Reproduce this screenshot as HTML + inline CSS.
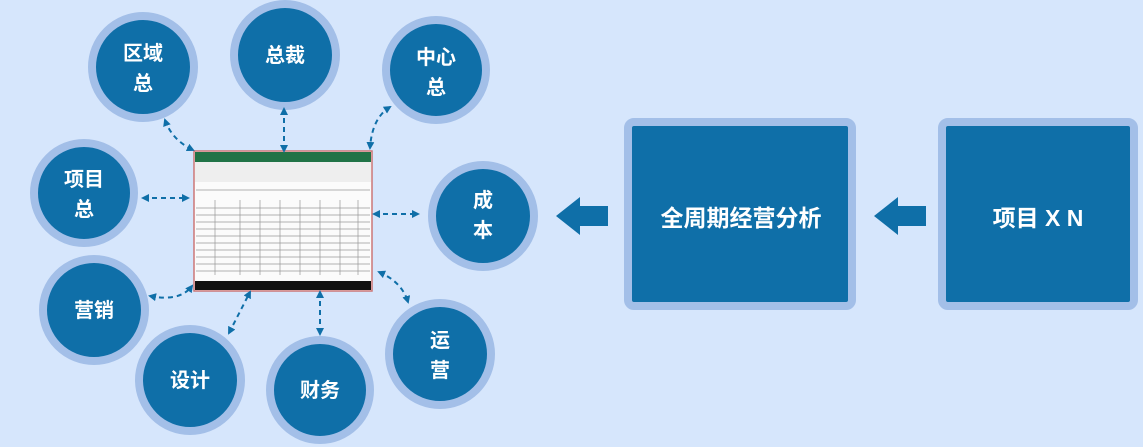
<!DOCTYPE html>
<html><head><meta charset="utf-8"><style>
html,body{margin:0;padding:0;background:#d6e6fc;}
svg{display:block;}
text{font-family:"Liberation Sans","Noto Sans CJK SC",sans-serif;font-weight:bold;fill:#fff;font-size:20px;text-anchor:middle;}
</style></head><body>
<svg width="1143" height="447" viewBox="0 0 1143 447" xmlns="http://www.w3.org/2000/svg">
<defs>
<marker id="ah" markerWidth="8" markerHeight="8" refX="6" refY="4" orient="auto-start-reverse" markerUnits="userSpaceOnUse"><path d="M0,0 L8,4 L0,8 Z" fill="#0f6fa8"/></marker>
</defs>
<rect width="1143" height="447" fill="#d6e6fc"/>
<g fill="#0f6fa8" stroke="#a3bfe8" stroke-width="8">
<circle cx="143" cy="67" r="51"/>
<circle cx="285" cy="55" r="51"/>
<circle cx="436" cy="70" r="50"/>
<circle cx="84" cy="193" r="50"/>
<circle cx="483" cy="216" r="51"/>
<circle cx="94" cy="310" r="51"/>
<circle cx="190" cy="380" r="51"/>
<circle cx="320" cy="390" r="50"/>
<circle cx="440" cy="354" r="51"/>
</g>
<text x="143" y="60">区域</text><text x="143" y="90">总</text>
<text x="285" y="62">总裁</text>
<text x="436" y="64">中心</text><text x="436" y="94">总</text>
<text x="84" y="186">项目</text><text x="84" y="216">总</text>
<text x="483" y="207">成</text><text x="483" y="237">本</text>
<text x="94" y="317">营销</text>
<text x="190" y="387">设计</text>
<text x="320" y="397">财务</text>
<text x="440" y="347">运</text><text x="440" y="377">营</text>
<rect x="628" y="122" width="224" height="184" rx="6" fill="#0f6fa8" stroke="#a3bfe8" stroke-width="8"/>
<text x="741" y="226" style="font-size:23px">全周期经营分析</text>
<rect x="942" y="122" width="192" height="184" rx="6" fill="#0f6fa8" stroke="#a3bfe8" stroke-width="8"/>
<text x="1038" y="226" style="font-size:23px">项目 X N</text>
<path d="M556,216 L580,197 L580,206 L608,206 L608,226 L580,226 L580,235 Z" fill="#0f6fa8"/>
<path d="M874,216 L898,197 L898,206 L926,206 L926,226 L898,226 L898,235 Z" fill="#0f6fa8"/>
<rect x="194" y="151" width="178" height="140" fill="#fbfbfb" stroke="#c77" stroke-width="1.5"/>
<rect x="195" y="152" width="176" height="10" fill="#217346"/>
<rect x="195" y="162" width="176" height="20" fill="#eeeeee"/>
<g stroke="#999" stroke-width="0.7">
<line x1="196" y1="190" x2="370" y2="190"/>
<line x1="196" y1="208" x2="370" y2="208"/>
<line x1="196" y1="215" x2="370" y2="215"/><line x1="196" y1="222" x2="370" y2="222"/>
<line x1="196" y1="229" x2="370" y2="229"/><line x1="196" y1="236" x2="370" y2="236"/>
<line x1="196" y1="243" x2="370" y2="243"/><line x1="196" y1="250" x2="370" y2="250"/>
<line x1="196" y1="257" x2="370" y2="257"/><line x1="196" y1="264" x2="370" y2="264"/>
<line x1="196" y1="271" x2="370" y2="271"/>
<line x1="215" y1="200" x2="215" y2="275"/><line x1="240" y1="200" x2="240" y2="275"/>
<line x1="260" y1="200" x2="260" y2="275"/><line x1="280" y1="200" x2="280" y2="275"/>
<line x1="300" y1="200" x2="300" y2="275"/><line x1="320" y1="200" x2="320" y2="275"/>
<line x1="340" y1="200" x2="340" y2="275"/><line x1="358" y1="200" x2="358" y2="275"/>
</g>
<rect x="195" y="281" width="176" height="9" fill="#111"/>
<g fill="none" stroke="#0f6fa8" stroke-width="2" stroke-dasharray="5,4" marker-start="url(#ah)" marker-end="url(#ah)">
<path d="M165,120 Q172,140 193,150"/>
<path d="M284,109 L284,151"/>
<path d="M390,107 Q372,118 370,148"/>
<path d="M143,198 L188,198"/>
<path d="M374,214 L418,214"/>
<path d="M150,296 Q180,302 192,286"/>
<path d="M229,333 L250,292"/>
<path d="M320,292 L320,334"/>
<path d="M379,272 Q402,282 408,302"/>
</g>
</svg>
</body></html>
